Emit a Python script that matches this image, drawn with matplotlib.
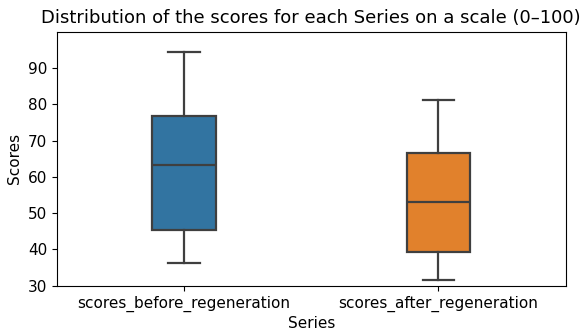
import matplotlib
matplotlib.use('Agg')
import matplotlib.pyplot as plt

# Valeurs (quartiles et moustaches)
series = ['scores_before_regeneration', 'scores_after_regeneration']
whisker_low = [36.3, 31.5]
q1 = [45.3, 39.3]
median = [63.2, 53.1]
q3 = [76.7, 66.7]
whisker_high = [94.3, 81.2]
colors = ['#3274a1', '#e1812c']

stats = []
for i, name in enumerate(series):
    stats.append({'label': name, 'whislo': whisker_low[i], 'q1': q1[i], 'med': median[i],
                  'q3': q3[i], 'whishi': whisker_high[i], 'fliers': []})

plt.rcParams['font.size'] = 11

fig = plt.figure(figsize=(5.85, 3.31), dpi=100)
ax = fig.add_axes([0.097, 0.137, 0.870, 0.767])

line_color = '#3f3f3f'
props = dict(color=line_color, linewidth=1.6)
bp = ax.bxp(stats, positions=range(len(series)), widths=0.25, patch_artist=True,
            showfliers=False, boxprops=dict(edgecolor=line_color, linewidth=1.6),
            medianprops=props, whiskerprops=props, capprops=props, capwidths=0.125)
for patch, c in zip(bp['boxes'], colors):
    patch.set_facecolor(c)

ax.set_xlim(-0.5, 1.5)
ax.set_ylim(30, 100)
ax.set_yticks([30, 40, 50, 60, 70, 80, 90])
ax.set_xlabel('Series', labelpad=3)
ax.set_ylabel('Scores')
ax.set_title('Distribution of the scores for each Series on a scale (0–100)', fontsize=13)

plt.savefig('out.png', format='png')
plt.close()
